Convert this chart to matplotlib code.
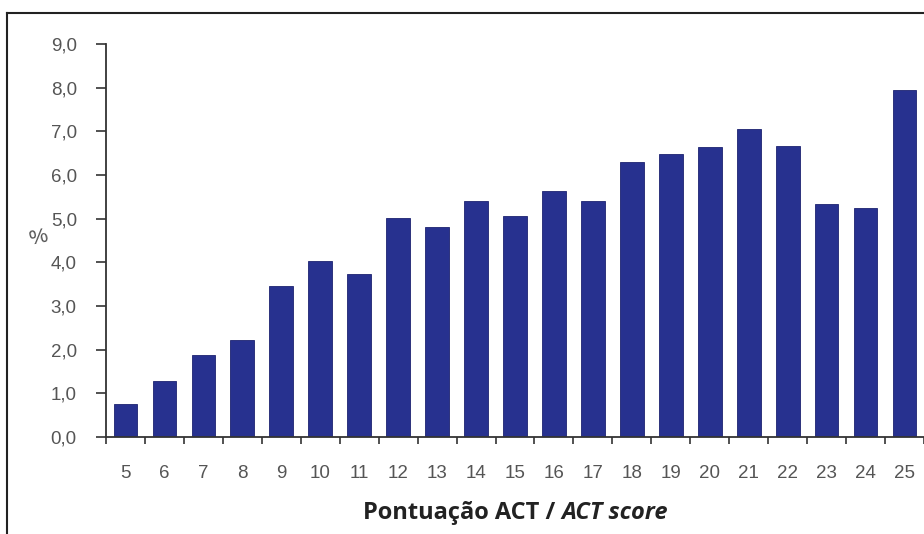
import matplotlib.pyplot as plt
from matplotlib.lines import Line2D

# pontuação ACT e percentagens
scores = [5, 6, 7, 8, 9, 10, 11, 12, 13, 14, 15, 16, 17, 18, 19, 20, 21, 22, 23, 24, 25]
percent = [0.75, 1.28, 1.88, 2.22, 3.45, 4.03, 3.73, 5.01, 4.81, 5.40, 5.06,
           5.63, 5.40, 6.29, 6.48, 6.64, 7.05, 6.66, 5.33, 5.24, 7.94]
yticks = [0, 1, 2, 3, 4, 5, 6, 7, 8, 9]
ytick_labels = ['0,0', '1,0', '2,0', '3,0', '4,0', '5,0', '6,0', '7,0', '8,0', '9,0']

W, H = 924, 534
fig = plt.figure(figsize=(W / 100, H / 100), dpi=100)
fig.patch.set_facecolor('white')

# moldura exterior (cortada à direita e em baixo)
fig.add_artist(Line2D([7 / W, 1], [1 - 13 / H, 1 - 13 / H], transform=fig.transFigure,
                      color='#222222', lw=1.5))
fig.add_artist(Line2D([7 / W, 7 / W], [0, 1 - 13 / H], transform=fig.transFigure,
                      color='#222222', lw=1.5))

ax = fig.add_axes([106 / W, 1 - 437 / H, (W - 106) / W, (437 - 44) / H])
x = list(range(len(scores)))
ax.bar(x, percent, width=0.61, color='#27318f', edgecolor='#1c2270', linewidth=0.6, zorder=2)

ax.set_xlim(-0.46, 20.5)
ax.set_ylim(0, 9)
for s in ['top', 'right']:
    ax.spines[s].set_visible(False)
for s in ['left', 'bottom']:
    ax.spines[s].set_color('#333333')
    ax.spines[s].set_linewidth(1.3)

tick_font = dict(family='Liberation Sans', fontsize=13.5, color='#555555')
ax.set_yticks(yticks)
ax.set_yticklabels(ytick_labels, **tick_font)
ax.tick_params(axis='y', direction='out', length=7, width=1.2, color='#333333', pad=14)

ax.set_xticks(x)
ax.set_xticklabels([str(s) for s in scores], **tick_font)
ax.tick_params(axis='x', which='major', length=0, pad=20)
ax.set_xticks([i + 0.5 for i in range(-1, len(scores))], minor=True)
ax.tick_params(axis='x', which='minor', direction='out', length=5, width=1.2, color='#333333')

fig.text(38 / W, 1 - 238 / H, '%', family='Liberation Sans', fontsize=15, color='#555555',
         ha='center', va='center', rotation=12)

t1 = fig.text(0, 1 - 513 / H, 'Pontuação ACT / ', family='Open Sans', fontweight='bold',
              fontsize=17, color='#222222', va='center')
t2 = fig.text(0, 1 - 513 / H, 'ACT score', family='Open Sans', fontweight='bold', style='italic',
              fontsize=17, color='#222222', va='center')
fig.canvas.draw()
r = fig.canvas.get_renderer()
w1 = t1.get_window_extent(r).width
w2 = t2.get_window_extent(r).width
x0 = 515 - (w1 + w2) / 2
t1.set_x(x0 / W)
t2.set_x((x0 + w1) / W)

fig.savefig('out.png', dpi=100)
